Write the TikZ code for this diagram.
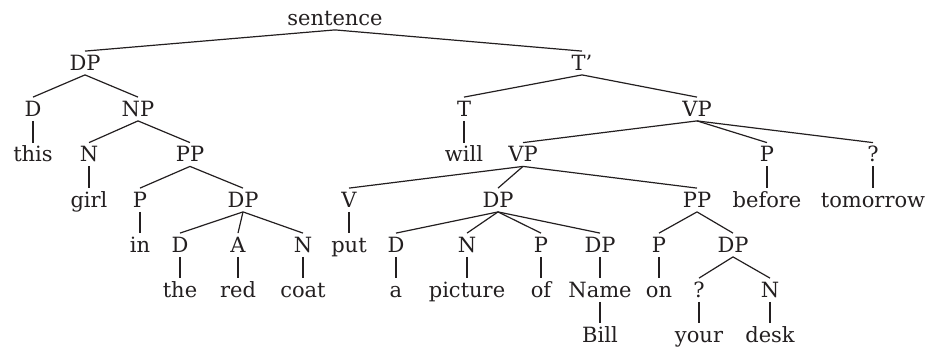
\documentclass[tikz,border=0pt]{standalone}
\usepackage{fontspec}
\setmainfont{DejaVu Serif}
\definecolor{ink}{RGB}{35,31,32}
\begin{document}
\begin{tikzpicture}[x=0.5pt,y=-0.5pt,
  lbl/.style={anchor=base,inner sep=0pt,text height=9.25pt,text depth=2.25pt,
    font=\fontsize{10.5pt}{12pt}\selectfont,text=ink},
  edge/.style={draw=ink,line width=0.6pt}]
\useasboundingbox (0,0) rectangle (936,349);
% row 1
\node[lbl] (s) at (335,25) {sentence};
% row 2
\node[lbl] (dp1) at (85,70) {DP};
\node[lbl] (tb) at (582,70) {T’};
% row 3
\node[lbl] (d1) at (33,116) {D};
\node[lbl] (np1) at (138,116) {NP};
\node[lbl] (t1) at (464,116) {T};
\node[lbl] (vp1) at (697,116) {VP};
% row 4
\node[lbl] (wthis) at (33,161.5) {this};
\node[lbl] (n1) at (89,161.5) {N};
\node[lbl] (pp1) at (190,161.5) {PP};
\node[lbl] (wwill) at (464,161.5) {will};
\node[lbl] (vp2) at (523,161.5) {VP};
\node[lbl] (p1) at (767,161.5) {P};
\node[lbl] (q1) at (873,161.5) {?};
% row 5
\node[lbl] (wgirl) at (89,207) {girl};
\node[lbl] (p2) at (140,207) {P};
\node[lbl] (dp2) at (243,207) {DP};
\node[lbl] (v1) at (349,207) {V};
\node[lbl] (dp3) at (498,207) {DP};
\node[lbl] (pp2) at (697,207) {PP};
\node[lbl] (wbefore) at (767,207) {before};
\node[lbl] (wtomorrow) at (873,207) {tomorrow};
% row 6
\node[lbl] (win) at (140,252) {in};
\node[lbl] (d2) at (180,252) {D};
\node[lbl] (a1) at (238,252) {A};
\node[lbl] (n2) at (303,252) {N};
\node[lbl] (wput) at (349,252) {put};
\node[lbl] (d3) at (396,252) {D};
\node[lbl] (n3) at (467,252) {N};
\node[lbl] (p3) at (541,252) {P};
\node[lbl] (dp4) at (600,252) {DP};
\node[lbl] (p4) at (659,252) {P};
\node[lbl] (dp5) at (733,252) {DP};
% row 7
\node[lbl] (wthe) at (180,297) {the};
\node[lbl] (wred) at (238,297) {red};
\node[lbl] (wcoat) at (303,297) {coat};
\node[lbl] (wa) at (396,297) {a};
\node[lbl] (wpicture) at (467,297) {picture};
\node[lbl] (wof) at (541,297) {of};
\node[lbl] (wname) at (600,297) {Name};
\node[lbl] (won) at (659,297) {on};
\node[lbl] (q2) at (699,297) {?};
\node[lbl] (n4) at (770,297) {N};
% row 8
\node[lbl] (wbill) at (600,342) {Bill};
\node[lbl] (wyour) at (699,342) {your};
\node[lbl] (wdesk) at (770,342) {desk};
% connectors
\foreach \a/\b in {s/dp1,s/tb,dp1/d1,dp1/np1,d1/wthis,np1/n1,np1/pp1,n1/wgirl,
  pp1/p2,pp1/dp2,p2/win,dp2/d2,dp2/a1,dp2/n2,d2/wthe,a1/wred,n2/wcoat,
  tb/t1,tb/vp1,t1/wwill,vp1/vp2,vp1/p1,vp1/q1,p1/wbefore,q1/wtomorrow,
  vp2/v1,vp2/dp3,vp2/pp2,v1/wput,dp3/d3,dp3/n3,dp3/p3,dp3/dp4,
  d3/wa,n3/wpicture,p3/wof,dp4/wname,wname/wbill,
  pp2/p4,pp2/dp5,p4/won,dp5/q2,dp5/n4,q2/wyour,n4/wdesk}
  \draw[edge] (\a.south) -- (\b.north);
\end{tikzpicture}
\end{document}
